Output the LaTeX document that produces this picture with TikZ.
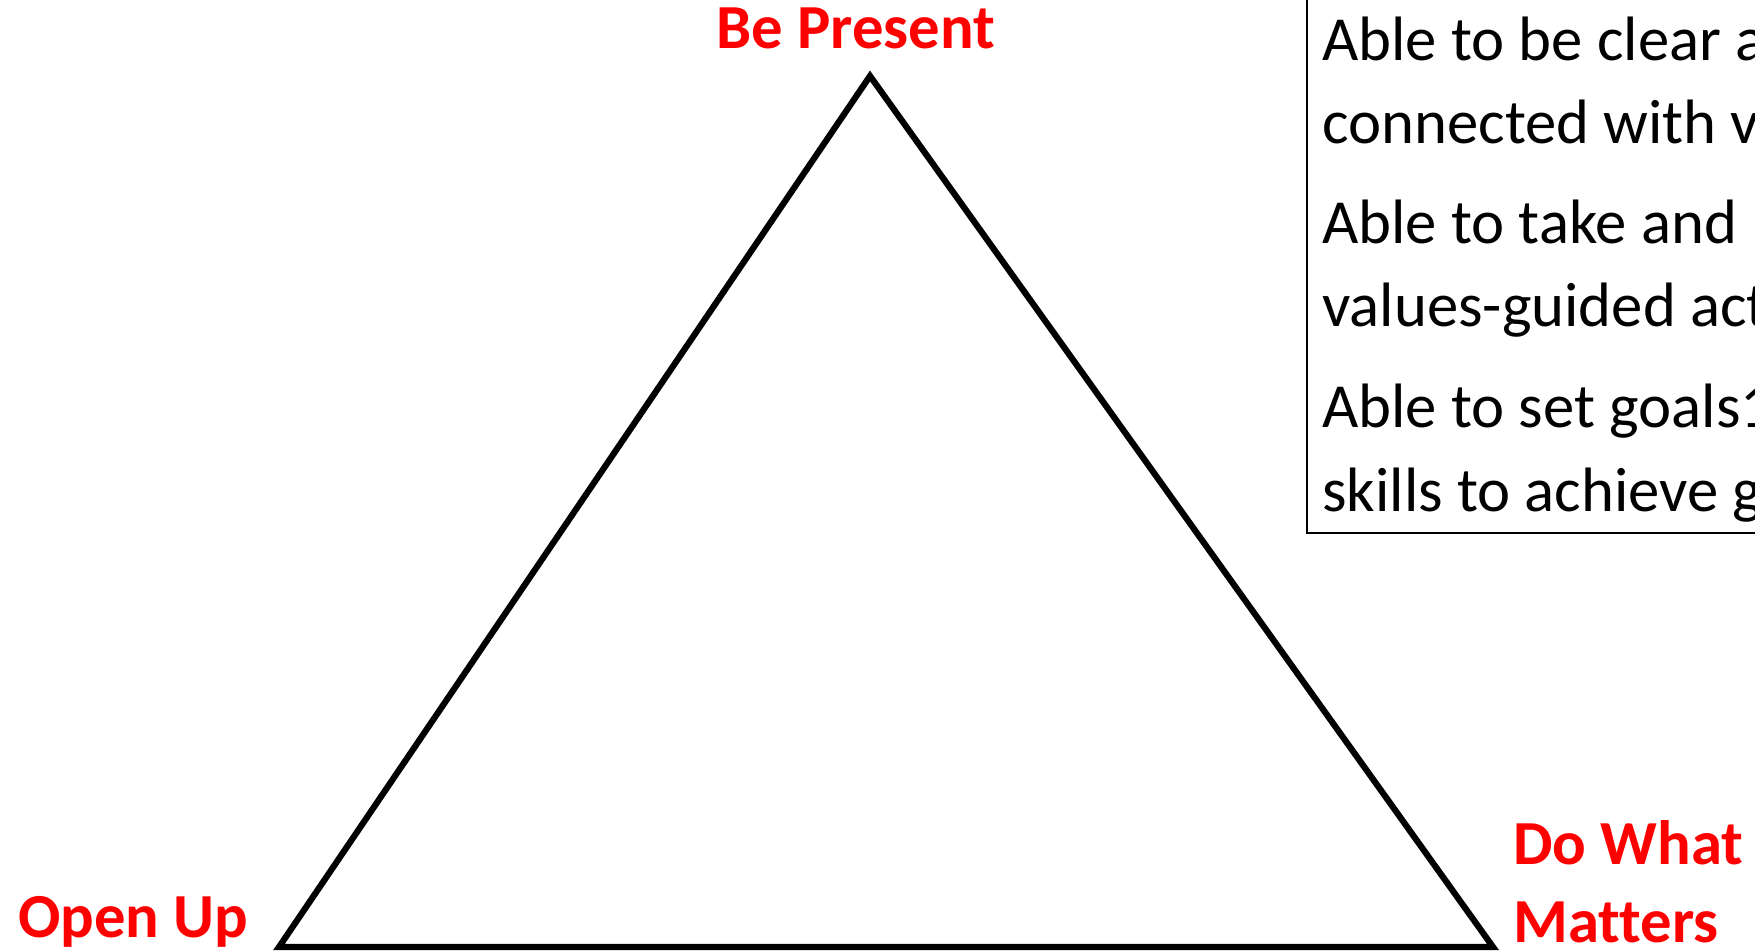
\documentclass[tikz,border=0pt]{standalone}
\usepackage{fontspec}
\setmainfont{Carlito}[Ligatures=NoCommon]
\usetikzlibrary{positioning}
\definecolor{ACTRed}{RGB}{255,0,0}

\begin{document}
\begin{tikzpicture}[
    x=0.5pt, y=-0.5pt,
    cornerlabel/.style={text=ACTRed, font=\fontsize{31.35}{39}\selectfont\bfseries, inner sep=0pt, align=left},
    skilltext/.style={font=\fontsize{31.35}{38.5}\selectfont, inner sep=0pt, anchor=base west},
    triline/.style={line width=3.1pt, line join=miter}
]
\useasboundingbox (0,0) rectangle (1755,951);
\clip (0,0) rectangle (1755,951);

% triangle
\coordinate (apex) at (870,76);
\coordinate (leftc) at (279,947);
\coordinate (rightc) at (1493,947);
\draw[triline] (apex) -- (rightc) -- (leftc) -- cycle;

% corner labels
\node[cornerlabel, anchor=base] (present) at (856,49) {Be Present};
\node[cornerlabel, anchor=base west] (openup) at (18,937) {Open Up};
\node[cornerlabel, anchor=south west] (matters) at (1513,943) {Do What\\Matters};

% skills box
\coordinate (boxsw) at (1307,533);
\coordinate (boxne) at (1800,-20);
\draw[line width=0.75pt] (boxsw) rectangle (boxne);
\foreach \y/\txt [count=\i] in {61/Able to be clear a, 144/connected with v,
    244/Able to take and, 327/values-guided act,
    428/Able to set goals1, 511/skills to achieve g}
  \node[skilltext] (skill\i) at (1322,\y) {\txt};
\end{tikzpicture}
\end{document}
